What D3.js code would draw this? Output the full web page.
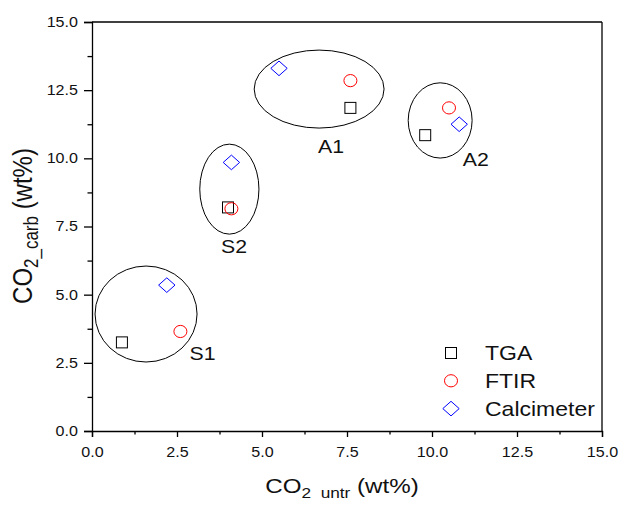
<!DOCTYPE html>
<html>
<head>
<meta charset="utf-8">
<script src="https://cdn.jsdelivr.net/npm/d3@7"></script>
<style>
  body { margin: 0; background: #fff; }
  text { font-family: Arial, "Liberation Sans", sans-serif; fill: #111; }
</style>
</head>
<body>
<div id="chart-area"></div>
<script>
// Data
const tgaX = [0.88, 4.0, 7.6, 9.8];
const tgaY = [3.25, 8.2, 11.85, 10.85];
const ftirX = [2.6, 4.1, 7.6, 10.5];
const ftirY = [3.65, 8.15, 12.85, 11.85];
const calcX = [2.2, 4.1, 5.5, 10.8];
const calcY = [5.35, 9.85, 13.3, 11.25];

const groupNames = ["S1", "S2", "A1", "A2"];
const groupCx = [1.59, 4.04, 6.68, 10.24];
const groupCy = [4.29, 8.87, 12.54, 11.39];
const groupRx = [1.5, 0.87, 1.91, 0.94];
const groupRy = [1.76, 1.65, 1.43, 1.38];
const labelX = [3.25, 4.18, 7.03, 11.29];
const labelY = [2.84, 6.78, 10.45, 9.94];

const xTicks = [0, 2.5, 5, 7.5, 10, 12.5, 15];
const yTicks = [0, 2.5, 5, 7.5, 10, 12.5, 15];
const minorTicks = [1.25, 3.75, 6.25, 8.75, 11.25, 13.75];

const seriesNames = ["TGA", "FTIR", "Calcimeter"];

// the picture is a little wider than tall, text follows that
const sx = 1.15;
const stretch = "scale(" + sx + ",1)";

let margin = { left: 92, right: 19, top: 22, bottom: 74 };
let width = 621 - margin.left - margin.right;
let height = 505 - margin.top - margin.bottom;

let svg = d3.select("#chart-area")
  .append("svg")
    .attr("width", 621)
    .attr("height", 505);

let g = svg.append("g")
  .attr("transform", "translate(" + margin.left + ", " + margin.top + ")");

let x = d3.scaleLinear().domain([0, 15]).range([0, width]);
let y = d3.scaleLinear().domain([0, 15]).range([height, 0]);

// Minor ticks
g.append("g")
  .attr("transform", "translate(0," + height + ")")
  .call(d3.axisBottom(x).tickValues(minorTicks).tickSize(3.5).tickFormat(""))
  .call(a => a.select(".domain").remove())
  .selectAll("line").attr("stroke-width", 1.3);

g.append("g")
  .call(d3.axisLeft(y).tickValues(minorTicks).tickSize(4.5).tickFormat(""))
  .call(a => a.select(".domain").remove())
  .selectAll("line").attr("stroke-width", 1.3);

// Major axes
let xAxis = g.append("g")
  .attr("transform", "translate(0," + height + ")")
  .call(d3.axisBottom(x).tickValues(xTicks).tickSize(6).tickPadding(10).tickFormat(d3.format(".1f")));

let yAxis = g.append("g")
  .call(d3.axisLeft(y).tickValues(yTicks).tickSize(8).tickPadding(4.2).tickFormat(d3.format(".1f")));

[xAxis, yAxis].forEach(function(a){
  a.selectAll("text")
    .attr("font-size", "14px")
    .attr("fill", "#111")
    .attr("font-family", "Arial, 'Liberation Sans', sans-serif")
    .attr("transform", stretch);
  a.selectAll("line").attr("stroke-width", 1.3);
  a.select(".domain").attr("stroke-width", 1.3);
});

// Frame top and right
g.append("line")
  .attr("x1", 0).attr("x2", width).attr("y1", 0).attr("y2", 0)
  .attr("stroke", "#000").attr("stroke-width", 1.3);
g.append("line")
  .attr("x1", width).attr("x2", width).attr("y1", 0).attr("y2", height)
  .attr("stroke", "#000").attr("stroke-width", 1.3);

// Group ellipses
groupNames.forEach(function(name, i){
  g.append("ellipse")
    .attr("cx", x(groupCx[i]))
    .attr("cy", y(groupCy[i]))
    .attr("rx", x(groupRx[i]) - x(0))
    .attr("ry", y(0) - y(groupRy[i]))
    .attr("fill", "none")
    .attr("stroke", "#000")
    .attr("stroke-width", 1);
  g.append("text")
    .attr("transform", "translate(" + x(labelX[i]) + "," + y(labelY[i]) + ") " + stretch)
    .attr("dy", "0.35em")
    .attr("text-anchor", "middle")
    .attr("font-size", "18.5px")
    .text(name);
});

// Marker shapes
function drawTGA(sel){
  sel.append("rect")
    .attr("x", -5.5).attr("y", -5.5)
    .attr("width", 11).attr("height", 11)
    .attr("fill", "none")
    .attr("stroke", "#000").attr("stroke-width", 1);
}
function drawFTIR(sel){
  sel.append("ellipse").attr("rx", 6.5).attr("ry", 6.1).attr("fill", "none")
    .attr("stroke", "#ff0000").attr("stroke-width", 1);
}
function drawCalc(sel){
  sel.append("path").attr("d", "M0,-7.3L8.2,0L0,7.3L-8.2,0Z").attr("fill", "none")
    .attr("stroke", "#0000ff").attr("stroke-width", 1);
}

tgaX.forEach(function(v, i){
  g.append("g").attr("transform", "translate(" + x(v) + "," + y(tgaY[i]) + ")").call(drawTGA);
});
ftirX.forEach(function(v, i){
  g.append("g").attr("transform", "translate(" + x(v) + "," + y(ftirY[i]) + ")").call(drawFTIR);
});
calcX.forEach(function(v, i){
  g.append("g").attr("transform", "translate(" + x(v) + "," + y(calcY[i]) + ")").call(drawCalc);
});

// Legend
let legend = svg.append("g").attr("transform", "translate(451, 353)");
let drawers = [drawTGA, drawFTIR, drawCalc];
seriesNames.forEach(function(name, i){
  let row = legend.append("g").attr("transform", "translate(0," + (i * 27.8) + ")");
  row.append("g").call(drawers[i]);
  row.append("text")
    .attr("transform", "translate(34,0) " + stretch)
    .attr("dy", "0.36em")
    .attr("font-size", "20px")
    .text(name);
});

// Axis titles
let xTitle = svg.append("text")
  .attr("transform", "translate(342,493) " + stretch)
  .attr("text-anchor", "middle")
  .attr("font-size", "21px");
xTitle.append("tspan").text("CO");
xTitle.append("tspan").attr("font-size", "15px").attr("dy", 5).text("2\u00a0 untr");
xTitle.append("tspan").attr("dy", -5).text(" (wt%)");

let yTitle = svg.append("text")
  .attr("transform", "translate(32,226) " + stretch + " rotate(-90)")
  .attr("text-anchor", "middle")
  .attr("font-size", "24px");
yTitle.append("tspan").text("CO");
yTitle.append("tspan").attr("font-size", "17px").attr("dy", 5).text("2_carb");
yTitle.append("tspan").attr("dy", -5).text(" (wt%)");
</script>
</body>
</html>
